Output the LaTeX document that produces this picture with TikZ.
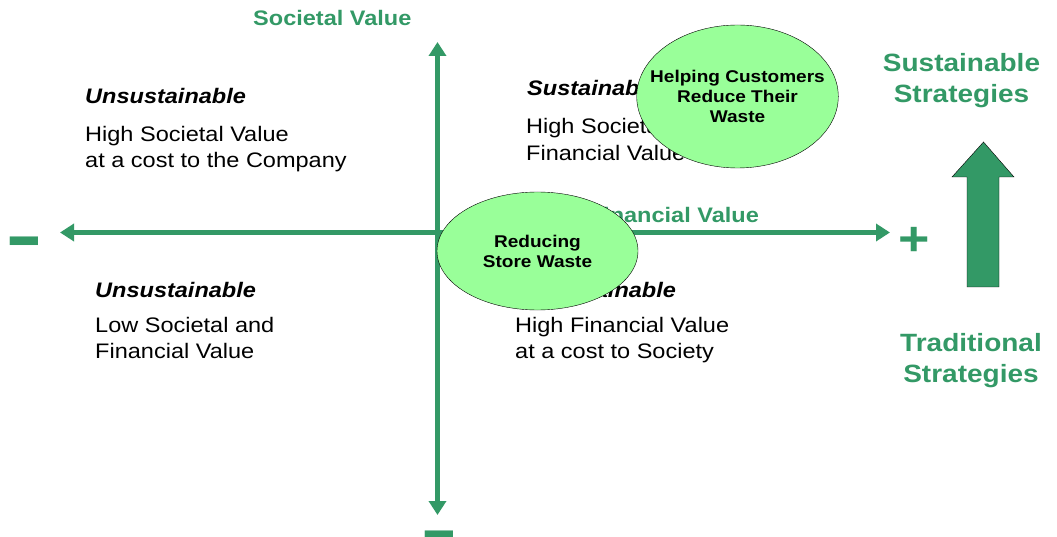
\documentclass[tikz,border=0pt]{standalone}
\usepackage{fontspec}
\setmainfont{Liberation Sans}[FakeStretch=1.12]
\usepackage{graphicx}
\usepackage{tikz}
\usetikzlibrary{arrows.meta}
\usetikzlibrary{shapes.geometric}
\definecolor{vgreen}{RGB}{51,153,102}
\definecolor{blobgreen}{RGB}{153,255,153}
\tikzset{axis/.style={draw=vgreen, line width=5pt, >={Triangle[length=14pt, width=17pt]}, <->},
  body/.style={font=\fontsize{21}{26.6}\selectfont, align=left, inner sep=0pt},
  head/.style={font=\fontsize{21}{26.6}\selectfont\bfseries\itshape, inner sep=0pt},
  axislabel/.style={text=vgreen, font=\fontsize{21}{25}\selectfont\bfseries, inner sep=0pt},
  sign/.style={text=vgreen, font=\fontsize{#1}{#1}\selectfont\bfseries, inner sep=0pt, anchor = base},
  strat/.style={text=vgreen, font=\fontsize{25}{31}\selectfont\bfseries, align=center, inner sep=0pt},
  blob/.style={ellipse, draw=black, fill=blobgreen, inner ysep=0pt, inner xsep=-16pt, align=center,
    font=\fontsize{17}{20}\selectfont\bfseries, minimum width=201pt},
  bigarrow/.style={draw=black, thin, fill=vgreen}}
\newcommand{\thickdash}{\scalebox{1}[1.7]{--}}

\begin{document}
\begin{tikzpicture}[x=1pt, y=-1pt]
      \useasboundingbox (0, 0) rectangle (1057, 537);

      \coordinate (xleft) at (60, 232.5);
      \coordinate (xright) at (890, 232.5);
      \coordinate (ytop) at (437.5, 42);
      \coordinate (ybot) at (437.5, 515);

      \node (soclabel) [axislabel, anchor = base west] at (253, 26) {Societal Value};
      \node (finlabel) [axislabel, anchor = base east] at (759, 222.7) {Financial Value};

      \node (ulhead) [head, anchor = north west] at (85, 88) {Unsustainable};
      \node (ulbody) [body, anchor = north west] at (85, 125.7) {High Societal Value\\at a cost to the Company};
      \node (urhead) [head, anchor = north west] at (527, 80) {Sustainable};
      \node (urbody) [body, anchor = north west] at (526, 118.3) {High Societal and\\Financial Value};
      \node (llhead) [head, anchor = north west] at (95, 282) {Unsustainable};
      \node (llbody) [body, anchor = north west] at (95, 316.7) {Low Societal and\\Financial Value};
      \node (lrhead) [head, anchor = north west] at (515, 282) {Unsustainable};
      \node (lrbody) [body, anchor = north west] at (515, 316.7) {High Financial Value\\at a cost to Society};

      \draw [axis] (xleft) -- (xright);
      \draw [axis] (ytop) -- (ybot);

      \node (xminus) [sign=51] at (24, 264.6) {\thickdash};
      \node (yminus) [sign=51] at (439.5, 558.6) {\thickdash};
      \node (xplus) [sign=48] at (914, 256) {+};

      \node (store) [blob, minimum height=118pt] at (537.5, 251) {Reducing\\Store Waste};
      \node (customers) [blob, minimum height=143pt] at (737.5, 96.5) {Helping Customers\\Reduce Their\\Waste};

      \node (sustain) [strat, anchor = north] at (961.5, 53) {Sustainable\\Strategies};
      \node (tradit) [strat, anchor = north] at (971, 333) {Traditional\\Strategies};
      \draw [bigarrow] (967, 287) -- (967, 177) -- (952, 177) -- (983.5, 142) -- (1014, 177) -- (999, 177) -- (999, 287) -- cycle;

    \end{tikzpicture}
\end{document}
